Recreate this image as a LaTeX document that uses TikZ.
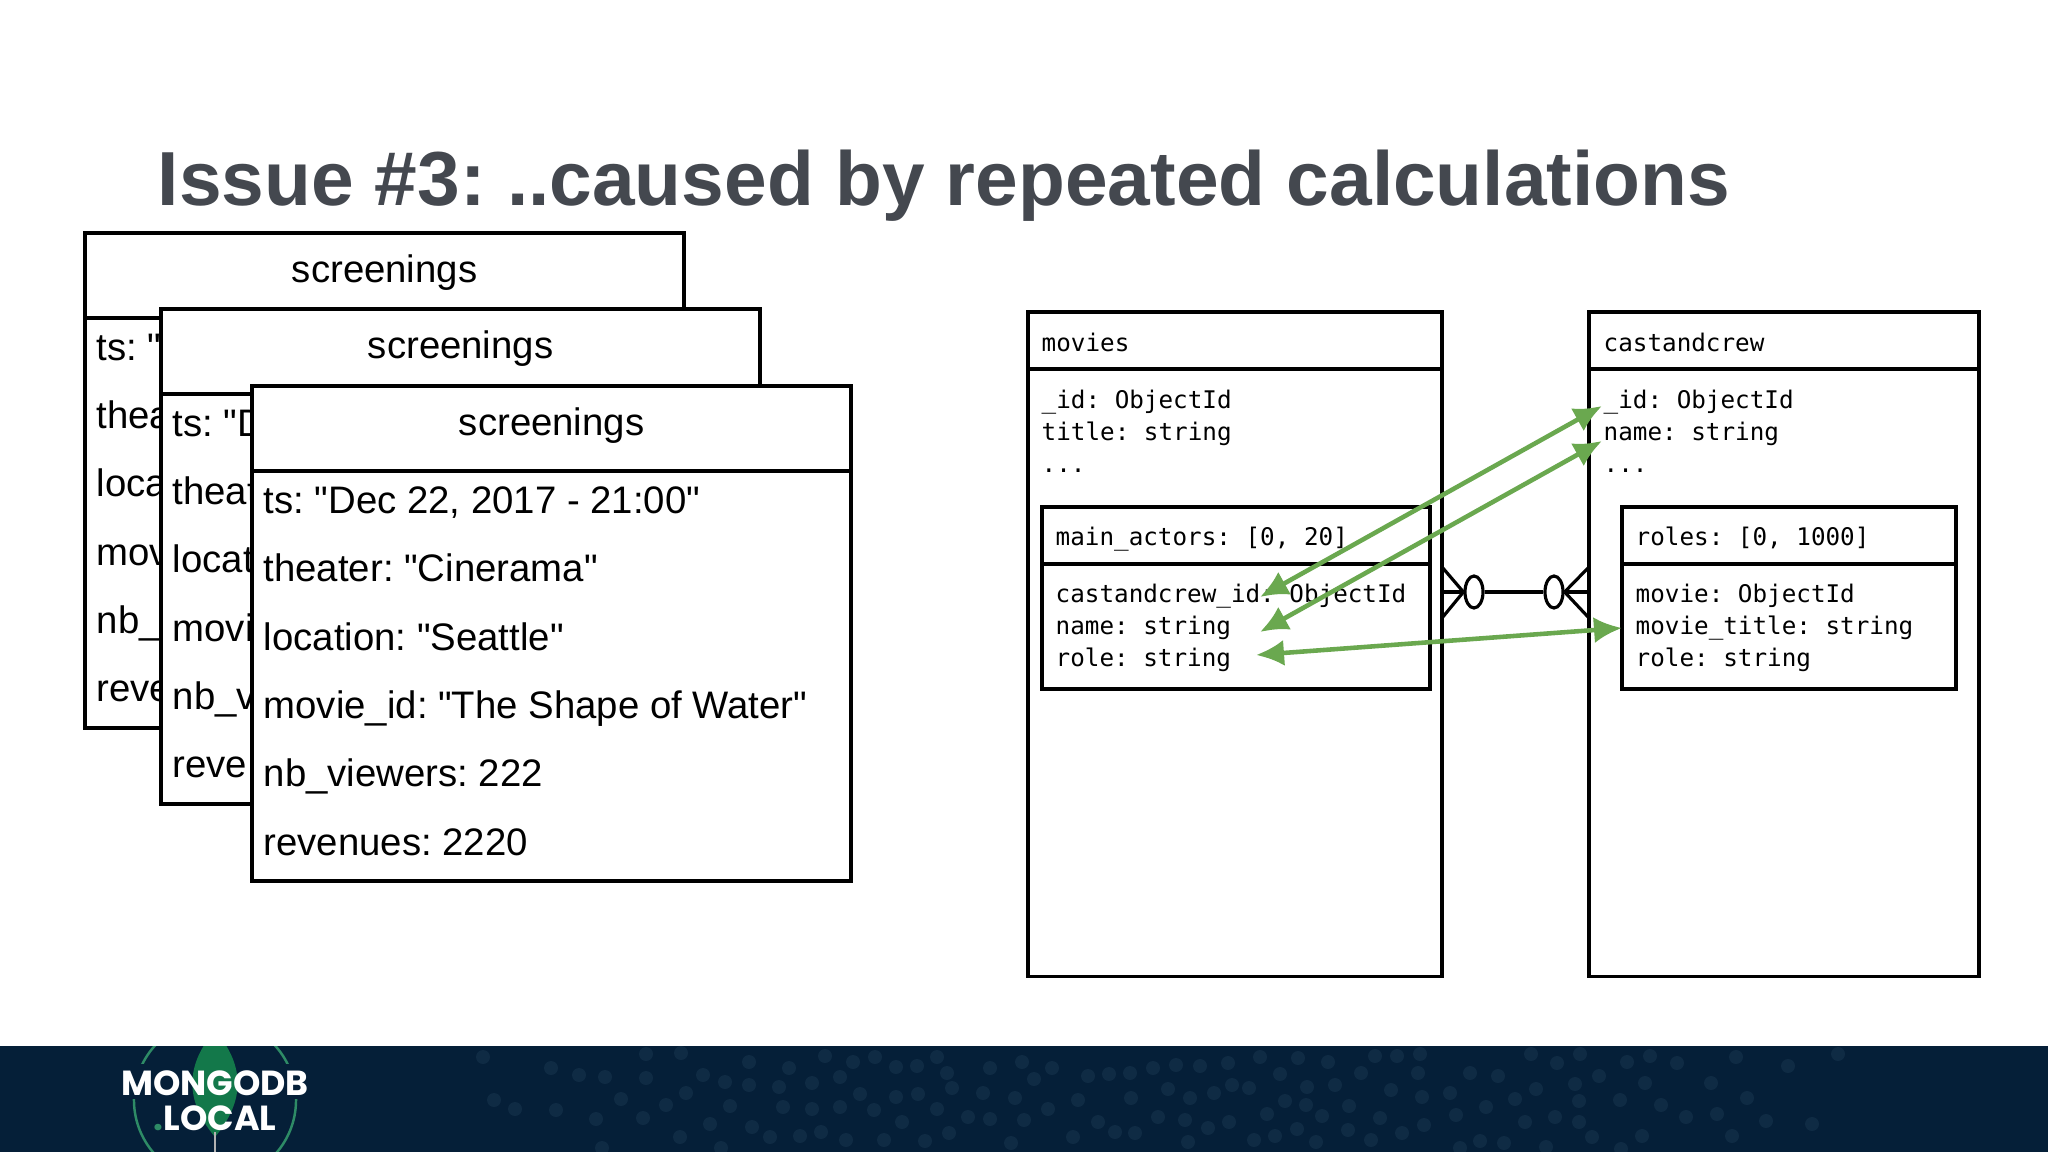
\documentclass[tikz,border=0pt]{standalone}
\usepackage{fontspec}
\setmainfont{Liberation Sans}
\setmonofont{DejaVu Sans Mono}
\newfontfamily\cardfont{Liberation Sans}
\newfontfamily\logofont{Poppins}
\usetikzlibrary{arrows.meta,positioning,shapes.geometric}
\definecolor{slidetitle}{HTML}{44484F}
\definecolor{linkgreen}{HTML}{6AA84F}
\definecolor{footerblue}{HTML}{051F38}
\definecolor{footerdot}{HTML}{0F2B44}
\definecolor{leafgreen}{HTML}{13784A}
\definecolor{ringgreen}{HTML}{2E8B66}
\newcommand{\pxu}{*0.2845pt}
\tikzset{
  cardhead/.style={draw, line width=1.2pt, fill=white, outer sep=0pt, anchor=north west, text depth=13\pxu,
    minimum width=599\pxu, minimum height=85\pxu, font=\fontsize{10.9}{12}\selectfont},
  cardbody/.style={draw, line width=1.2pt, fill=white, outer sep=0pt, anchor=north west,
    minimum width=599\pxu, minimum height=410\pxu},
  cardtext/.style={anchor=north west, align=left, inner sep=0pt,
    font=\cardfont\frenchspacing\fontsize{10.9}{19.43}\selectfont},
  erbox/.style={draw, line width=1pt, outer sep=0pt, anchor=north west},
  ertext/.style={anchor=north west, align=left, inner sep=0pt,
    font=\ttfamily\fontsize{6.9}{9.1}\selectfont},
  link/.style={linkgreen, line width=1.3pt, {Latex[length=28\pxu,width=26\pxu]}-{Latex[length=28\pxu,width=26\pxu]}},
  erline/.style={line width=0.9pt},
  erring/.style={draw, ellipse, line width=0.9pt, minimum width=18\pxu, minimum height=32\pxu, inner sep=0pt},
  logotext/.style={text=white, inner sep=0pt, font=\logofont\bfseries\fontsize{9.9}{11}\selectfont},
}
\begin{document}
\begin{tikzpicture}[x=0.01cm, y=-0.01cm]
  \useasboundingbox (0,0) rectangle (2048,1152);
  \node (title) at (157,186) [anchor=west, text=slidetitle, inner sep=0pt,
    font=\frenchspacing\bfseries\fontsize{21.8}{25}\selectfont] {Issue \#3: ..caused by repeated calculations};

  % back card
  \node (head1) at (85,233) [cardhead] {screenings};
  \node (body1) at (85,318) [cardbody] {};
  \node (fields1) at (96,333) [cardtext] {ts: "\\ thea\\ loca\\ mov\\ nb\_\\ reve};
  % middle card
  \node (head2) at (161,309) [cardhead] {screenings};
  \node (body2) at (161,394) [cardbody] {};
  \node (fields2) at (172,409) [cardtext] {ts: "D\\ theat\\ locat\\ movi\\ nb\_v\\ reve};
  % front card
  \node (head3) at (252,386) [cardhead] {screenings};
  \node (body3) at (252,471) [cardbody] {};
  \node (fields3) at (263,486) [cardtext] {ts: "Dec 22, 2017 - 21:00"\\ theater: "Cinerama"\\ location: "Seattle"\\
    movie\_id: "The Shape of Water"\\ nb\_viewers: 222\\ revenues: 2220};

  % collections
  \node (movies) at (1028,312) [erbox, minimum width=414\pxu, minimum height=664\pxu] {};
  \node (moviesHead) at (1028,312) [erbox, minimum width=414\pxu, minimum height=57\pxu] {};
  \node (moviesName) at (1041,332) [ertext] {movies};
  \node (moviesFields) at (1041,389) [ertext] {\_id: ObjectId\\ title: string\\ ...};
  \node (actors) at (1042,507) [erbox, minimum width=388\pxu, minimum height=182\pxu] {};
  \node (actorsHead) at (1042,507) [erbox, minimum width=388\pxu, minimum height=57\pxu] {};
  \node (actorsName) at (1055,526) [ertext] {main\_actors: [0, 20]};
  \node (actorsFields) at (1055,583) [ertext] {castandcrew\_id: ObjectId\\ name: string\\ role: string};

  \node (cast) at (1589,312) [erbox, minimum width=390\pxu, minimum height=664\pxu] {};
  \node (castHead) at (1589,312) [erbox, minimum width=390\pxu, minimum height=57\pxu] {};
  \node (castName) at (1603,332) [ertext] {castandcrew};
  \node (castFields) at (1603,389) [ertext] {\_id: ObjectId\\ name: string\\ ...};
  \node (roles) at (1622,507) [erbox, minimum width=334\pxu, minimum height=182\pxu] {};
  \node (rolesHead) at (1622,507) [erbox, minimum width=334\pxu, minimum height=57\pxu] {};
  \node (rolesName) at (1635,526) [ertext] {roles: [0, 1000]};
  \node (rolesFields) at (1635,583) [ertext] {movie: ObjectId\\ movie\_title: string\\ role: string};

  % one to many on both sides
  \coordinate (footL) at (1442,592);
  \coordinate (footR) at (1589,592);
  \coordinate (footLa) at (1442,567);
  \coordinate (footLb) at (1442,618);
  \coordinate (footRa) at (1589,567);
  \coordinate (footRb) at (1589,618);
  \node (ringL) at (1474,592) [erring] {};
  \node (ringR) at (1554,592) [erring] {};
  \draw [erline] (footL) -- (ringL);
  \draw [erline] (ringL) -- (ringR);
  \draw [erline] (ringR) -- (footR);
  \draw [erline] (ringL.west) -- (footLa);
  \draw [erline] (ringL.west) -- (footLb);
  \draw [erline] (ringR.east) -- (footRa);
  \draw [erline] (ringR.east) -- (footRb);

  % matching fields
  \coordinate (idSrc) at (1260,597);
  \coordinate (idDst) at (1602,406);
  \coordinate (nameSrc) at (1260,632);
  \coordinate (nameDst) at (1602,441);
  \coordinate (roleSrc) at (1256,655);
  \coordinate (roleDst) at (1622,628);
  \draw [link] (idSrc) -- (idDst);
  \draw [link] (nameSrc) -- (nameDst);
  \draw [link] (roleSrc) -- (roleDst);

  % footer
  \fill [footerblue] (0,1046) rectangle (2048,1152);
  \begin{scope}
    \clip (0,1046) rectangle (2048,1152);
    \foreach \dotx/\doty in {483/1057,551/1068,579/1075,605/1077,646/1054,646/1078,681/1053,749/1062,789/1068,703/1075,
      725/1082,749/1085,779/1087,812/1083,840/1077,825/1056,853/1062,875/1057,896/1067,917/1066,937/1057,947/1073,
      990/1068,1022/1062,1034/1079,1052/1068,1088/1076,1109/1074,1130/1073,1153/1068,1176/1065,1200/1066,1228/1063,
      494/1100,515/1109,556/1110,596/1119,621/1099,643/1118,666/1105,686/1093,730/1106,710/1124,752/1127,770/1137,
      783/1107,812/1109,840/1107,860/1094,896/1097,918/1094,952/1088,983/1093,1015/1098,1078/1100,1048/1109,874/1110,
      937/1109,902/1122,968/1117,990/1119,1024/1120,1131/1098,1168/1089,1190/1098,1214/1093,1232/1085,
      680/1137,800/1136,821/1132,846/1140,884/1140,925/1141,949/1133,1011/1143,1073/1137,1098/1122,1115/1132,1135/1133,
      1158/1117,1185/1120,1208/1128,1229/1122,1188/1142,602/1148,721/1148,
      1260/1057,1298/1058,1328/1062,1375/1056,1397/1056,1420/1054,1531/1054,1557/1063,1580/1054,1627/1062,1650/1056,
      1677/1063,1736/1057,1788/1066,1838/1054,1280/1074,1361/1073,1418/1073,1470/1073,1498/1076,1599/1076,1645/1083,
      1711/1083,1575/1084,1249/1088,1307/1087,1335/1085,1391/1090,1450/1093,1422/1097,1536/1089,1515/1099,1579/1101,
      1620/1100,1747/1098,1661/1105,1285/1101,1306/1105,1349/1106,1486/1107,1267/1114,1322/1116,1380/1118,1456/1115,
      1424/1125,1525/1122,1555/1117,1579/1122,1686/1117,1717/1114,1766/1121,1812/1124,1254/1140,1275/1136,1297/1129,
      1316/1142,1348/1130,1371/1140,1402/1133,1480/1141,1504/1143,1592/1137,1642/1136,1732/1136,1460/1148,1546/1147,1621/1149}
      \fill [footerdot] (\dotx,\doty) circle [radius=0.07cm];

    % logo
    \node (logoRing) at (215,1100) [draw=ringgreen, circle, line width=0.7pt, minimum size=162\pxu, inner sep=0pt] {};
    \fill [footerblue] (120,1064) rectangle (310,1099);
    \fill [leafgreen] (215,1030) .. controls (190,1060) and (180,1095) .. (215,1137)
      .. controls (250,1095) and (240,1060) .. (215,1030);
    \draw [gray!60!white, line width=0.8pt] (215,1132) -- (215,1152);
  \end{scope}
  \node (logoTop) at (215,1083) [logotext] {MONGODB};
  \node (logoBottom) at (215,1118) [logotext] {\textcolor{ringgreen}{.}LOCAL};
\end{tikzpicture}
\end{document}
